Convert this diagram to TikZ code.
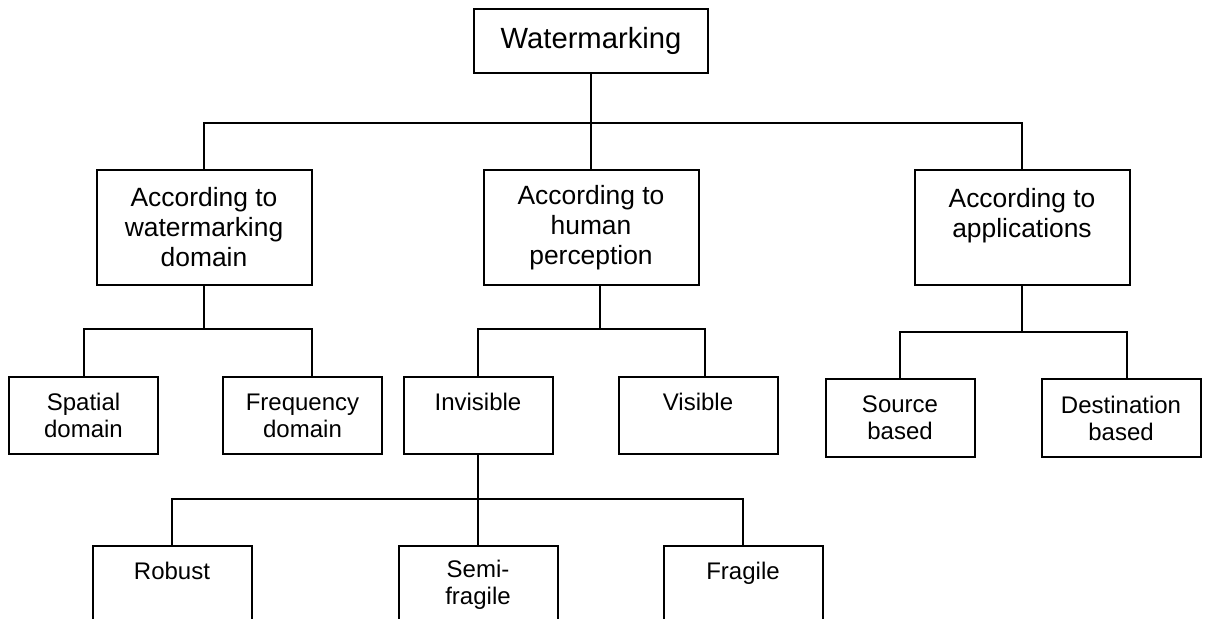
\documentclass[tikz,border=0pt]{standalone}
\usepackage{fontspec}
\setmainfont{Liberation Sans}
\usetikzlibrary{positioning}

\begin{document}
\begin{tikzpicture}[
  x=0.5pt, y=-0.5pt,
  line width=1pt,
  box/.style={
    rectangle, draw=black, line width=1pt, outer sep=0pt,
    inner sep=2pt, align=center, fill=white
  },
  rootbox/.style={box, minimum width=117pt, minimum height=32pt,
    font=\fontsize{14.6pt}{17pt}\selectfont},
  groupbox/.style={box, minimum width=107.5pt, minimum height=57.5pt,
    font=\fontsize{13.2pt}{15pt}\selectfont},
  leafbox/.style={box, minimum width=74.5pt, minimum height=38.5pt,
    font=\fontsize{12pt}{13.5pt}\selectfont},
  wideleaf/.style={leafbox, minimum width=79.5pt}
]
\useasboundingbox (0,0) rectangle (1208,619);
\clip (0,0) rectangle (1208,619);
% top level
\node[rootbox] (root) at (591,41) {Watermarking};
\node[groupbox, below=48.5pt of root] (percep) {According to\\ human\\ perception};
\node[groupbox, left=86pt of percep] (domain) {According to\\ watermarking\\ domain};
\node[groupbox, right=108pt of percep] (apps) {According to\\ applications\\ \mbox{}};
% second level
\node[leafbox] (spatial) at (83.5,415.5) {Spatial\\ domain};
\node[wideleaf, right=32.5pt of spatial] (freq) {Frequency\\ domain};
\node[leafbox] (invis) at (478,415.5) {Invisible\\ \mbox{}};
\node[wideleaf, right=33pt of invis] (vis) {Visible\\ \mbox{}};
\node[leafbox] (source) at (900,418) {Source\\ based};
\node[wideleaf, right=33.5pt of source] (dest) {Destination\\ based};
% third level
\node[wideleaf, below=46pt of invis] (semi) {Semi-\\ fragile};
\node[wideleaf, left=73.5pt of semi] (robust) {Robust\\ \mbox{}};
\node[wideleaf, right=53pt of semi] (fragile) {Fragile\\ \mbox{}};
% bus lines
\coordinate (bus0) at (0,123);
\coordinate (bus1) at (0,329);
\coordinate (bus2) at (0,332);
\coordinate (bus3) at (0,498.5);
\draw (root.south) -- (root.south |- bus0) -| (domain.north);
\draw (root.south |- bus0) -| (apps.north);
\draw (root.south |- bus0) -- (percep.north);
\draw (domain.south) -- (domain.south |- bus1) -| (spatial.north);
\draw (domain.south |- bus1) -| ([xshift=4.5pt]freq.north);
\draw ([xshift=4.5pt]percep.south) -- ([xshift=4.5pt]percep.south |- bus1) -| (invis.north);
\draw ([xshift=4.5pt]percep.south |- bus1) -| ([xshift=3.5pt]vis.north);
\draw (apps.south) -- (apps.south |- bus2) -| (source.north);
\draw (apps.south |- bus2) -| ([xshift=3pt]dest.north);
\draw (invis.south) -- (semi.north);
\draw (invis.south |- bus3) -| (robust.north);
\draw (invis.south |- bus3) -| (fragile.north);
\end{tikzpicture}
\end{document}
